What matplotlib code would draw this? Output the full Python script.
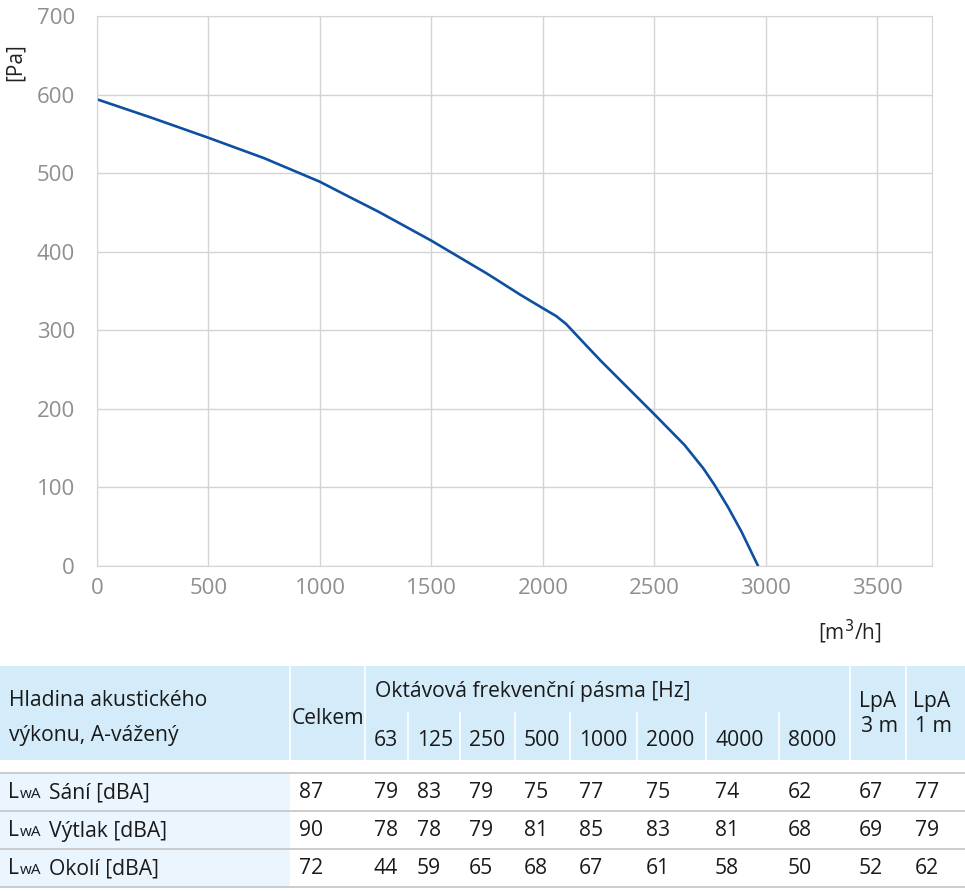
import numpy as np
import matplotlib.pyplot as plt
from matplotlib.patches import Rectangle

plt.rcParams['font.family'] = ['Open Sans', 'DejaVu Sans']

# fan curve
flow = [0, 250, 500, 750, 1000, 1130, 1262, 1500, 1750, 1900, 2000, 2060, 2104, 2180, 2260,
        2380, 2500, 2635, 2720, 2770, 2830, 2890, 2965]
pressure = [594, 570, 545, 519, 489, 470, 451, 414, 372, 345, 328, 318, 308, 285, 261,
            227, 193, 154, 124, 103, 75, 44, 0]

xticks = [0, 500, 1000, 1500, 2000, 2500, 3000, 3500]
yticks = [0, 100, 200, 300, 400, 500, 600, 700]

# acoustic table
bands = ['63', '125', '250', '500', '1000', '2000', '4000', '8000']
row_names = ['Sání [dBA]', 'Výtlak [dBA]', 'Okolí [dBA]']
total = [87, 90, 72]
band_vals = [[79, 83, 79, 75, 77, 75, 74, 62],
             [78, 78, 79, 81, 85, 83, 81, 68],
             [44, 59, 65, 68, 67, 61, 58, 50]]
lpa3 = [67, 69, 52]
lpa1 = [77, 79, 62]

W, H = 965, 891
fig = plt.figure(figsize=(W / 100, H / 100), dpi=100)
ax = fig.add_axes([97 / W, (H - 566) / H, (932 - 97) / W, (566 - 16) / H])
ax.plot(flow, pressure, color='#0d4fa0', lw=1.9, solid_capstyle='round', solid_joinstyle='round')
ax.set_xlim(0, 3745)
ax.set_ylim(0, 700)
ax.set_xticks(xticks)
ax.set_yticks(yticks)
ax.grid(True, color='#d4d4d4', lw=1)
ax.set_axisbelow(True)
for s in ax.spines.values():
    s.set_color('#d4d4d4')
ax.tick_params(length=0, labelsize=16, labelcolor='#8f8f8f')
ax.tick_params(axis='y', pad=16)
ax.tick_params(axis='x', pad=9)
fig.text(15 / W, 1 - 62 / H, '[Pa]', rotation=90, ha='center', va='center', fontsize=15, color='#222222')
fig.text(850 / W, 1 - 632 / H, '[m$^3$/h]', ha='center', va='center', fontsize=15, color='#222222')

# table drawn in pixel coordinates
tb = fig.add_axes([0, 0, 1, 1], zorder=-1)
tb.set_xlim(0, W)
tb.set_ylim(H, 0)
tb.axis('off')

hdr = '#d4ecfa'
tb.add_patch(Rectangle((0, 666), W, 94, color=hdr, lw=0))
col_edges = [290, 365, 408, 460, 515, 570, 637, 706, 779, 850, 906]
for xe in [290, 365, 850, 906]:
    tb.plot([xe, xe], [666, 760], color='white', lw=1.2)
for xe in col_edges[2:9]:
    tb.plot([xe, xe], [713, 760], color='white', lw=1.2)

fs = 15.2
tc = '#1a1a1a'
tb.text(9, 701, 'Hladina akustického', fontsize=fs, color=tc, va='center')
tb.text(9, 735, 'výkonu, A-vážený', fontsize=fs, color=tc, va='center')
tb.text(292, 718, 'Celkem', fontsize=fs, color=tc, va='center')
tb.text(375, 692, 'Oktávová frekvenční pásma [Hz]', fontsize=fs, color=tc, va='center')
for xe, b in zip(col_edges[1:9], bands):
    tb.text(xe + 9, 740, b, fontsize=fs, color=tc, va='center')
for xe, t in [(859, '3 m'), (913, '1 m')]:
    tb.text(xe, 701, 'LpA', fontsize=fs, color=tc, va='center')
    tb.text(xe + 2, 727, t, fontsize=fs, color=tc, va='center')

row_top = [773, 811, 849]
for i, name in enumerate(row_names):
    y0 = row_top[i]
    tb.add_patch(Rectangle((0, y0), 290, 38, color='#eaf5fd', lw=0))
    tb.plot([0, W], [y0, y0], color='#c4c4c4', lw=1.2)
    yc = y0 + 20
    tb.text(8, yc, 'L', fontsize=fs, color=tc, va='center')
    tb.text(20, yc + 1.5, 'wA', fontsize=11, color=tc, va='center')
    tb.text(49, yc, name, fontsize=fs, color=tc, va='center')
    vals = [total[i]] + band_vals[i] + [lpa3[i], lpa1[i]]
    for xe, v in zip(col_edges, vals):
        tb.text(xe + 9, yc, str(v), fontsize=fs, color=tc, va='center')
tb.plot([0, W], [887, 887], color='#c4c4c4', lw=1.2)

fig.savefig('out.png', dpi=100)
